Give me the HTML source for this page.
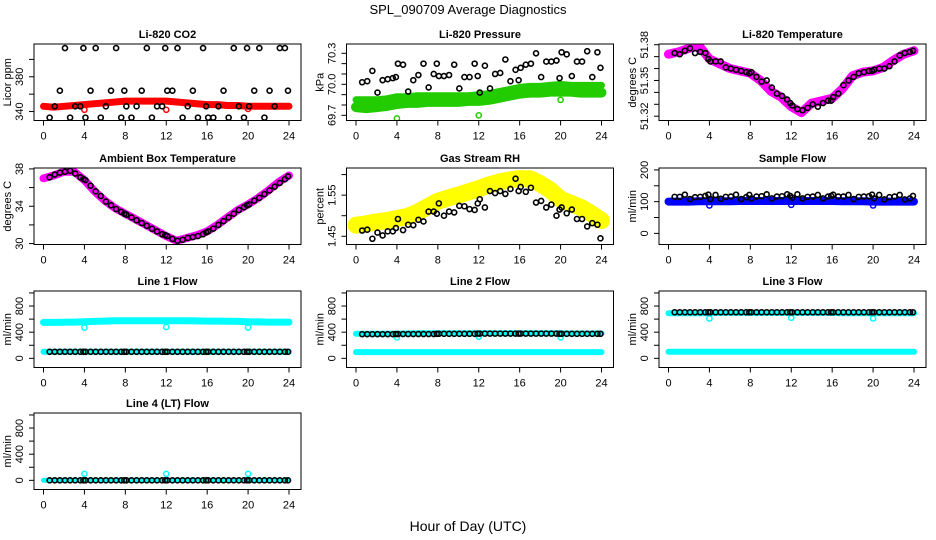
<!DOCTYPE html>
<html><head><meta charset="utf-8"><style>
html,body{margin:0;padding:0;background:#fff;}
svg{display:block;font-family:"Liberation Sans",Arial,sans-serif;}
</style></head><body>
<svg id="chart" width="936" height="540" viewBox="0 0 936 540" xmlns="http://www.w3.org/2000/svg">
<rect x="0" y="0" width="936" height="540" fill="#fff"/>
<text x="468" y="14" text-anchor="middle" font-size="13">SPL_090709  Average Diagnostics</text>
<text x="468" y="531" text-anchor="middle" font-size="14">Hour of Day (UTC)</text>
</svg>
<script>
// ---- shared data ----
const blackHours = [0.6,1.1,1.6,2.1,2.6,3.1,3.6,3.9,4.1,4.6,5.1,5.6,6.1,6.6,7.1,7.6,7.9,8.1,8.6,9.1,9.6,10.1,10.6,11.1,11.6,11.9,12.1,12.6,13.1,13.6,14.1,14.6,15.1,15.6,15.9,16.1,16.6,17.1,17.6,18.1,18.6,19.1,19.6,19.9,20.1,20.6,21.1,21.6,22.1,22.6,23.1,23.6,23.9];
const bandHours = [0,1,2,3,4,5,6,7,8,9,10,11,12,13,14,15,16,17,18,19,20,21,22,23,24];
const dipHours = [4,12,20];
const xTicks = [0,4,8,12,16,20,24];

// CO2
const co2Black = [333,346,364,413,333,346,346,413,333,364,413,333,346,364,413,333,364,346,333,346,364,413,333,346,346,413,364,364,413,333,346,364,333,413,346,333,333,346,364,333,413,346,333,413,346,364,413,333,364,346,413,413,364];
const co2Band = [346,345,346,347,348,349,350,351,352,352,352,352,352,351,350,349,348,348,347,347,346,346,346,346,346];
const co2Dips = [342,342,343];
// Pressure
const presBlack = [70.02,70.03,70.13,69.92,70.04,70.05,70.06,70.07,70.2,70.19,69.93,70.04,70.09,70.2,69.97,70.1,70.2,70.08,70.08,70.09,70.19,69.96,70.07,70.07,70.2,70.08,69.92,70.18,69.96,70.1,70.11,70.24,70.03,70.14,70.04,70.16,70.19,70.2,70.3,70.07,70.22,70.22,70.23,70.06,70.31,70.29,70.08,70.22,70.22,70.32,70.07,70.31,70.16];
const presBandUpper = [69.85,69.85,69.85,69.86,69.88,69.88,69.89,69.89,69.89,69.89,69.89,69.89,69.9,69.91,69.93,69.95,69.97,69.98,69.98,69.99,70.0,69.99,69.99,69.99,69.99];
const presBandLower = [69.78,69.77,69.78,69.79,69.81,69.82,69.82,69.83,69.83,69.83,69.83,69.84,69.84,69.85,69.87,69.89,69.91,69.92,69.92,69.93,69.93,69.93,69.92,69.92,69.92];
const presDips = [69.67,69.7,69.85];
// Li-820 temperature
const ltBlack = [51.373,51.372,51.375,51.377,51.373,51.374,51.373,51.368,51.366,51.366,51.366,51.361,51.360,51.359,51.358,51.357,51.356,51.357,51.353,51.349,51.350,51.344,51.339,51.337,51.334,51.331,51.329,51.326,51.325,51.327,51.330,51.328,51.331,51.333,51.333,51.336,51.339,51.346,51.350,51.353,51.356,51.357,51.358,51.358,51.359,51.360,51.360,51.362,51.366,51.371,51.373,51.374,51.375];
const ltBand = [51.372,51.374,51.377,51.379,51.368,51.364,51.360,51.358,51.356,51.350,51.341,51.336,51.328,51.323,51.331,51.333,51.335,51.343,51.354,51.357,51.358,51.361,51.367,51.372,51.375];
// Ambient temperature
const ambBlack = [37.1,37.4,37.6,37.7,37.8,37.5,37.1,36.9,36.8,36.2,35.6,35.1,34.5,34.1,33.7,33.4,33.2,33.1,32.8,32.5,32.2,31.9,31.6,31.3,31.0,30.9,30.8,30.5,30.3,30.4,30.6,30.7,30.8,31.0,31.2,31.3,31.6,32.0,32.4,32.8,33.2,33.6,33.9,34.1,34.2,34.6,34.9,35.3,35.7,36.1,36.5,36.9,37.2];
const ambBand = [37.0,37.3,37.7,37.7,36.8,35.6,34.6,33.8,33.2,32.6,32.0,31.4,30.8,30.3,30.6,30.9,31.3,32.0,32.8,33.6,34.2,34.9,35.7,36.6,37.3];
// Gas stream RH
const rhBlack = [1.464,1.466,1.444,1.459,1.452,1.462,1.462,1.47,1.492,1.465,1.478,1.477,1.49,1.486,1.51,1.51,1.505,1.53,1.50,1.51,1.508,1.524,1.523,1.516,1.514,1.53,1.54,1.52,1.56,1.555,1.56,1.553,1.565,1.59,1.56,1.57,1.558,1.568,1.532,1.536,1.52,1.527,1.50,1.515,1.52,1.506,1.515,1.492,1.492,1.474,1.482,1.478,1.445];
const rhBand = [1.477,1.480,1.485,1.488,1.493,1.498,1.508,1.522,1.535,1.543,1.550,1.558,1.566,1.575,1.582,1.587,1.590,1.590,1.578,1.562,1.540,1.530,1.520,1.505,1.488];
// Sample flow
const sfBlack = [115,115,122,108,114,115,118,122,108,121,109,115,116,122,108,114,121,110,116,117,123,110,116,117,123,118,112,123,110,115,116,121,110,116,118,122,116,116,121,108,115,116,117,122,110,121,107,114,116,121,107,110,118];
const sfBand = [100,100,100,101,101,101,101,102,102,102,102,102,102,102,102,102,102,101,101,101,100,100,100,100,100];
const sfDips = [88,90,88];
// Line flows
const l1Black = [100,100,100,100,100,100,100,100,100,100,100,100,100,100,100,100,100,100,100,100,100,100,100,100,100,100,100,100,100,100,100,100,100,100,100,100,100,100,100,100,100,100,100,100,100,100,100,100,100,100,100,100,100];
const l1BandHi = [550,550,552,555,560,565,570,575,575,575,575,575,575,575,575,572,570,570,568,565,560,558,555,555,555];
const l1BandLo = [100,100,100,100,100,100,100,100,100,100,100,100,100,100,100,100,100,100,100,100,100,100,100,100,100];
const l1Dips = [470,480,470];
const l2Black = [370,370,370,370,370,370,370,372,372,372,372,372,372,372,372,372,375,375,375,375,375,375,375,375,375,378,378,378,378,378,378,378,378,378,378,378,378,378,378,378,378,378,378,375,375,375,375,375,375,375,375,375,375];
const l2BandHi = [375,375,375,375,378,380,385,385,385,385,385,385,385,385,385,385,385,385,385,385,385,380,380,380,380];
const l2BandLo = [95,95,95,95,95,95,95,95,95,95,95,95,95,95,95,95,95,95,95,95,95,95,95,95,95];
const l2Dips = [320,330,320];
const l3Black = [705,705,705,705,705,705,705,705,705,705,705,705,705,705,705,705,705,705,705,705,705,705,705,705,705,705,705,705,705,705,705,705,705,705,705,705,705,705,705,705,705,705,705,705,705,705,705,705,705,705,705,705,705];
const l3BandHi = [690,690,690,690,690,695,695,695,695,695,695,695,695,695,695,695,695,690,690,690,690,690,690,690,690];
const l3BandLo = [100,100,100,100,100,100,100,100,100,100,100,100,100,100,100,100,100,100,100,100,100,100,100,100,100];
const l3Dips = [610,620,610];
const l4Black = [0,0,0,0,0,0,0,0,0,0,0,0,0,0,0,0,0,0,0,0,0,0,0,0,0,0,0,0,0,0,0,0,0,0,0,0,0,0,0,0,0,0,0,0,0,0,0,0,0,0,0,0,0];
const l4Band = [0,0,0,0,0,0,0,0,0,0,0,0,0,0,0,0,0,0,0,0,0,0,0,0,0];
const l4Dips = [100,100,100];

// y-axis ticks
const co2Ticks = [340,360,380,400];
const co2Labels = ["340","","380",""];
const presTicks = [69.7,69.8,69.9,70.0,70.1,70.2,70.3];
const presLabels = ["69.7","","","70.0","","","70.3"];
const ltTicks = [51.32,51.33,51.34,51.35,51.36,51.37,51.38];
const ltLabels = ["51.32","","","51.35","","","51.38"];
const ambTicks = [30,32,34,36,38];
const ambLabels = ["30","","34","","38"];
const rhTicks = [1.45,1.50,1.55,1.60];
const rhLabels = ["1.45","","1.55",""];
const sfTicks = [0,50,100,150,200];
const sfLabels = ["0","","100","","200"];
const flowTicks = [0,200,400,600,800,1000];
const flowLabels = ["0","","400","","800",""];

const NS = "http://www.w3.org/2000/svg";
const svg = document.getElementById('chart');
const colLeft = [34,346.5,659];
const rowTop = [44,168,291,413];
const BW = 267, BH = 76.5;

function mk(tag, attrs, parent){
  const e = document.createElementNS(NS, tag);
  for (const k in attrs) e.setAttribute(k, attrs[k]);
  (parent||svg).appendChild(e);
  return e;
}

function panel(opt){
  const L = colLeft[opt.col], T = rowTop[opt.row], R = L + BW, B = T + BH;
  const g = mk('g', {});
  
  
  const xs = h => L + 9.5 + h * (245.5 / 24);
  const ys = v => B - (v - opt.ymin) / (opt.ymax - opt.ymin) * BH;
  const clip = mk('clipPath', {id: 'clip-' + opt.name}, g);
  mk('rect', {x: L, y: T, width: BW, height: BH}, clip);
  const plot = mk('g', {'clip-path': 'url(#clip-' + opt.name + ')'}, g);
  
  
  (opt.bands || []).forEach(b => {
    const pts = bandHours.map((h, i) => xs(h).toFixed(1) + ',' + ys(b.vals[i]).toFixed(1)).join(' ');
    const pl = mk('polyline', {points: pts, fill: 'none', stroke: b.color, 'stroke-width': b.w, 'stroke-linecap': 'round', 'stroke-linejoin': 'round'}, plot);
    
    
  });
  if (opt.dips) {
    dipHours.forEach((h, i) => {
      const c = mk('circle', {cx: xs(h), cy: ys(opt.dips[i]), r: 2.6, fill: 'none', stroke: opt.dipColor, 'stroke-width': 1.5}, plot);
      
      
    });
  }
  blackHours.forEach((h, i) => {
    const c = mk('circle', {cx: xs(h), cy: ys(opt.black[i]), r: 2.5, fill: 'none', stroke: '#000', 'stroke-width': 1.6}, plot);
    
    
  });
  const box = mk('rect', {x: L, y: T, width: BW, height: BH, fill: 'none', stroke: '#000', 'stroke-width': 1}, g);
  
  
  const t = mk('text', {x: (L + R) / 2, y: T - 6, 'text-anchor': 'middle', 'font-size': 11, 'font-weight': 'bold'}, g);
  t.textContent = opt.title;
  
  
  const xa = mk('g', {}, g);
  
  
  xTicks.forEach(v => {
    mk('line', {x1: xs(v), x2: xs(v), y1: B, y2: B + 5, stroke: '#000', 'stroke-width': 1}, xa);
    const tx = mk('text', {x: xs(v), y: B + 19, 'text-anchor': 'middle', 'font-size': 11}, xa);
    tx.textContent = String(v);
    
    
  });
  const ya = mk('g', {}, g);
  
  
  opt.ticks.forEach((v, i) => {
    const y = ys(v);
    mk('line', {x1: L - 5, x2: L, y1: y, y2: y, stroke: '#000', 'stroke-width': 1}, ya);
    if (opt.labels[i]) {
      const tx = mk('text', {x: L - 11, y: y, 'text-anchor': 'middle', 'font-size': 11, transform: 'rotate(-90 ' + (L - 11) + ' ' + y + ')'}, ya);
      tx.textContent = opt.labels[i];
      
      
    }
  });
  const yt = mk('text', {x: L - 23, y: (T + B) / 2, 'text-anchor': 'middle', 'font-size': 11, transform: 'rotate(-90 ' + (L - 23) + ' ' + ((T + B) / 2) + ')'}, ya);
  yt.textContent = opt.ylab;
  
  
}

panel({name:'co2', col:0, row:0, title:'Li-820 CO2', ylab:'Licor ppm', ymin:329.7, ymax:417.7, ticks:co2Ticks, labels:co2Labels,
  bands:[{vals:co2Band, color:'#ff0000', w:7}], dips:co2Dips, dipColor:'#ff0000', black:co2Black});
panel({name:'pressure', col:1, row:0, title:'Li-820 Pressure', ylab:'kPa', ymin:69.65, ymax:70.39, ticks:presTicks, labels:presLabels,
  bands:[{vals:presBandLower, color:'#22cc00', w:10},{vals:presBandUpper, color:'#22cc00', w:7}], dips:presDips, dipColor:'#22cc00', black:presBlack});
panel({name:'li820-temp', col:2, row:0, title:'Li-820 Temperature', ylab:'degrees C', ymin:51.3164, ymax:51.3806, ticks:ltTicks, labels:ltLabels,
  bands:[{vals:ltBand, color:'#ff00ff', w:9}], black:ltBlack});
panel({name:'ambient-temp', col:0, row:1, title:'Ambient Box Temperature', ylab:'degrees C', ymin:29.9, ymax:38.1, ticks:ambTicks, labels:ambLabels,
  bands:[{vals:ambBand, color:'#ff00ff', w:8}], black:ambBlack});
panel({name:'gas-rh', col:1, row:1, title:'Gas Stream RH', ylab:'percent', ymin:1.43, ymax:1.616, ticks:rhTicks, labels:rhLabels,
  bands:[{vals:rhBand, color:'#ffff00', w:17}], black:rhBlack});
panel({name:'sample-flow', col:2, row:1, title:'Sample Flow', ylab:'ml/min', ymin:-35, ymax:206, ticks:sfTicks, labels:sfLabels,
  bands:[{vals:sfBand, color:'#0000ff', w:8}], dips:sfDips, dipColor:'#0000ff', black:sfBlack});
panel({name:'line1-flow', col:0, row:2, title:'Line 1 Flow', ylab:'ml/min', ymin:-140, ymax:1030, ticks:flowTicks, labels:flowLabels,
  bands:[{vals:l1BandHi, color:'#00ffff', w:7},{vals:l1BandLo, color:'#00ffff', w:6}], dips:l1Dips, dipColor:'#00ffff', black:l1Black});
panel({name:'line2-flow', col:1, row:2, title:'Line 2 Flow', ylab:'ml/min', ymin:-140, ymax:1030, ticks:flowTicks, labels:flowLabels,
  bands:[{vals:l2BandHi, color:'#00ffff', w:6},{vals:l2BandLo, color:'#00ffff', w:6}], dips:l2Dips, dipColor:'#00ffff', black:l2Black});
panel({name:'line3-flow', col:2, row:2, title:'Line 3 Flow', ylab:'ml/min', ymin:-140, ymax:1030, ticks:flowTicks, labels:flowLabels,
  bands:[{vals:l3BandHi, color:'#00ffff', w:6},{vals:l3BandLo, color:'#00ffff', w:6}], dips:l3Dips, dipColor:'#00ffff', black:l3Black});
panel({name:'line4-flow', col:0, row:3, title:'Line 4 (LT) Flow', ylab:'ml/min', ymin:-140, ymax:1030, ticks:flowTicks, labels:flowLabels,
  bands:[{vals:l4Band, color:'#00ffff', w:5}], dips:l4Dips, dipColor:'#00ffff', black:l4Black});
</script>
</body></html>
